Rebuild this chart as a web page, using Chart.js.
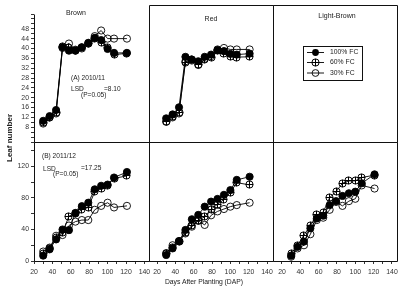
<!DOCTYPE html>
<html><head><meta charset="utf-8">
<script src="https://cdn.jsdelivr.net/npm/chart.js@4.4.1/dist/chart.umd.min.js"></script>
<style>
html,body{margin:0;padding:0;background:#fff;width:403px;height:289px;overflow:hidden;}
#wrap{position:relative;width:403px;height:289px;font-family:"Liberation Sans",Arial,sans-serif;color:#222;}
canvas{position:absolute;left:0;top:0;pointer-events:none;}
.t{position:absolute;white-space:nowrap;font-size:6.6px;line-height:1;}
.c{transform:translate(-50%,-50%);}
.l{transform:translate(0,-50%);}
</style></head><body>
<div id="wrap">
<canvas id="c0" width="403" height="289"></canvas>
<canvas id="c1" width="403" height="289"></canvas>
<canvas id="c2" width="403" height="289"></canvas>
<canvas id="c3" width="403" height="289"></canvas>
<canvas id="c4" width="403" height="289"></canvas>
<canvas id="c5" width="403" height="289"></canvas>
<div class="t c" style="left:76px;top:12px;font-size:7px">Brown</div>
<div class="t c" style="left:211px;top:18px;font-size:7px">Red</div>
<div class="t c" style="left:337px;top:15px;font-size:7px">Light-Brown</div>
<div class="t c" style="left:9.5px;top:138px;font-size:8px;font-weight:bold;transform:translate(-50%,-50%) rotate(-90deg)">Leaf number</div>
<div class="t c" style="left:204px;top:282px;font-size:6.8px">Days After Planting (DAP)</div>
<div class="t l" style="left:71px;top:78px">(A) 2010/11</div>
<div class="t l" style="left:71px;top:89px">LSD</div>
<div class="t l" style="left:81px;top:95px">(P=0.05)</div>
<div class="t l" style="left:104px;top:89px">=8.10</div>
<div class="t l" style="left:42px;top:156px">(B) 2011/12</div>
<div class="t l" style="left:43px;top:169px">LSD</div>
<div class="t l" style="left:53px;top:174px">(P=0.05)</div>
<div class="t l" style="left:81px;top:168px">=17.25</div>
</div>
<script>
// ---- data ----
const days = [30, 37, 44, 51, 58, 65, 72, 79, 86, 93, 100, 107, 121];
const seriesNames = ['100% FC', '60% FC', '30% FC'];

const brown1011_fc100 = [10.6, 12.5, 15.0, 40.5, 39.1, 39.1, 40.5, 42.3, 44.3, 43.4, 39.8, 38.2, 38.2];
const brown1011_fc60  = [10.0, 12.0, 14.0, 40.8, 40.5, 39.0, 40.5, 42.0, 44.0, 42.5, 40.5, 37.5, 38.0];
const brown1011_fc30  = [9.5, 12.0, 13.6, 40.2, 42.0, 39.5, 40.0, 42.0, 45.0, 47.3, 44.0, 44.0, 44.0];

const red1011_fc100 = [11.6, 13.2, 16.1, 36.6, 35.5, 34.8, 36.6, 37.5, 39.3, 38.9, 37.8, 37.5, 37.9];
const red1011_fc60  = [10.5, 12.5, 14.0, 34.5, 35.5, 33.5, 35.5, 36.5, 39.0, 38.0, 36.8, 36.5, 36.6];
const red1011_fc30  = [10.2, 12.0, 13.6, 34.8, 35.1, 33.3, 35.8, 36.9, 39.6, 40.2, 39.6, 39.6, 39.6];

const brown1112_fc100 = [6.8, 14.8, 27.4, 40.0, 39.2, 61.0, 69.6, 74.0, 91.0, 95.5, 97.0, 106.0, 113.0];
const brown1112_fc60  = [10.0, 16.0, 30.0, 36.0, 57.0, 60.0, 65.0, 68.0, 88.0, 92.0, 96.0, 105.0, 108.0];
const brown1112_fc30  = [12.0, 17.0, 32.0, 33.0, 45.0, 50.0, 52.0, 52.0, 65.0, 70.0, 74.0, 68.0, 70.0];

const red1112_fc100 = [7.6, 16.0, 25.4, 39.4, 53.0, 58.5, 69.0, 75.4, 78.8, 84.0, 90.0, 103.0, 107.0];
const red1112_fc60  = [9.0, 17.0, 25.0, 36.0, 45.0, 52.0, 56.0, 66.0, 72.0, 78.0, 87.0, 99.5, 96.6];
const red1112_fc30  = [10.0, 20.0, 25.0, 35.0, 43.6, 51.0, 45.8, 58.0, 63.0, 66.0, 69.0, 71.0, 74.0];

const lb1112_fc100 = [6.8, 18.0, 24.6, 41.5, 54.0, 57.6, 71.0, 76.0, 82.6, 86.0, 88.0, 98.7, 110.0];
const lb1112_fc60  = [9.7, 20.0, 33.0, 45.0, 58.5, 62.0, 80.5, 88.0, 98.7, 101.7, 101.7, 106.0, 109.0];
const lb1112_fc30  = [5.5, 16.0, 20.0, 34.0, 52.0, 55.0, 65.0, 75.0, 70.0, 76.0, 79.0, 96.0, 92.0];

const topYLabels = [8, 12, 16, 20, 24, 28, 32, 36, 40, 44, 48];
const bottomYLabels = [0, 40, 80, 120];
const xLabels = [20, 40, 60, 80, 100, 120, 140];

// ---- styling ----
Chart.defaults.font.family = '"Liberation Sans", Arial, sans-serif';
Chart.defaults.color = '#333';
const W = 403, H = 289;
const R = 3.6;

function crossMarker() {
  const c = document.createElement('canvas');
  c.width = 9; c.height = 9;
  const g = c.getContext('2d');
  g.strokeStyle = '#000'; g.lineWidth = 1;
  g.beginPath(); g.arc(4.5, 4.5, 3.6, 0, Math.PI * 2); g.stroke();
  g.beginPath(); g.moveTo(0.9, 4.5); g.lineTo(8.1, 4.5); g.moveTo(4.5, 0.9); g.lineTo(4.5, 8.1); g.stroke();
  return c;
}
const crossImg = crossMarker();

function styleFor(k) {
  const base = { borderColor: '#000', borderWidth: 0.9, tension: 0, pointRadius: R, pointHoverRadius: R, pointBorderColor: '#000', pointBorderWidth: 0.9, fill: false };
  if (k === 0) return Object.assign(base, { pointStyle: 'circle', pointBackgroundColor: '#000', backgroundColor: '#000' });
  if (k === 1) return Object.assign(base, { pointStyle: crossImg, pointBackgroundColor: 'rgba(0,0,0,0)' });
  return Object.assign(base, { pointStyle: 'circle', pointBackgroundColor: 'rgba(255,255,255,0)' });
}

function drawMarker(ctx, k, x, y) {
  ctx.save();
  ctx.strokeStyle = '#000'; ctx.fillStyle = '#000'; ctx.lineWidth = 0.9;
  if (k === 0) { ctx.beginPath(); ctx.arc(x, y, 3.4, 0, Math.PI * 2); ctx.fill(); }
  else if (k === 1) { ctx.imageSmoothingEnabled = false; ctx.drawImage(crossImg, Math.round(x - 4.5), Math.round(y - 4.5)); }
  else { ctx.beginPath(); ctx.arc(x, y, 3.4, 0, Math.PI * 2); ctx.stroke(); }
  ctx.restore();
}

const framePlugin = {
  id: 'frame',
  beforeDatasetsDraw(chart) { chart.ctx.imageSmoothingEnabled = false; },
  afterDraw(chart, args, opts) {
    const { ctx, chartArea: a } = chart;
    const L = Math.round(a.left) + 0.5, Rr = Math.round(a.right) + 0.5, T = Math.round(a.top) + 0.5, B = Math.round(a.bottom) + 0.5;
    ctx.save();
    ctx.strokeStyle = '#111'; ctx.lineWidth = 1;
    ctx.beginPath();
    ctx.moveTo(L, T); ctx.lineTo(L, B); ctx.lineTo(Rr, B); ctx.lineTo(Rr, T);
    if (opts.top !== false) ctx.lineTo(L, T);
    ctx.stroke();
    if (opts.legend) {
      ctx.strokeRect(303.5, 46.5, 59, 34);
      const ys = [52.5, 62.5, 73];
      ctx.font = '6.8px "Liberation Sans", Arial, sans-serif';
      ctx.textBaseline = 'middle'; ctx.textAlign = 'left';
      seriesNames.forEach((n, k) => {
        ctx.lineWidth = 0.9; ctx.strokeStyle = '#000';
        ctx.beginPath(); ctx.moveTo(307, ys[k]); ctx.lineTo(324, ys[k]); ctx.stroke();
        drawMarker(ctx, k, 315.5, ys[k]);
        ctx.fillStyle = '#222';
        ctx.fillText(n, 330, ys[k]);
      });
    }
    ctx.restore();
  }
};

function axis(cfg, horizontal, size) {
  if (!cfg.show) return { type: 'linear', display: false, min: cfg.min, max: cfg.max };
  return {
    type: 'linear', min: cfg.min, max: cfg.max,
    position: horizontal ? 'bottom' : 'left',
    afterFit(s) { if (horizontal) s.height = size; else s.width = size; },
    border: { display: false },
    grid: { drawOnChartArea: false, drawTicks: true, tickLength: 3, tickColor: '#000', tickWidth: 0.8 },
    ticks: {
      stepSize: cfg.step, includeBounds: false, autoSkip: false, maxRotation: 0, minRotation: 0,
      padding: horizontal ? 4 : 2,
      font: { size: 6.9 }, color: '#333',
      callback: (v) => cfg.labels.includes(v) ? String(v) : ''
    }
  };
}

function panel(id, area, x, y, data, frameOpts) {
  const datasets = data.map((arr, k) => Object.assign({
    label: seriesNames[k],
    data: days.map((d, i) => ({ x: d, y: arr[i] }))
  }, styleFor(k)));
  const padLeft = y.show ? 0 : area[0];
  const padBottom = x.show ? 0 : H - area[3];
  return new Chart(document.getElementById(id), {
    type: 'line',
    data: { datasets },
    options: {
      responsive: false, animation: false, devicePixelRatio: 1,
      events: [],
      layout: { padding: { left: padLeft, top: area[1], right: W - area[2], bottom: padBottom } },
      plugins: { legend: { display: false }, tooltip: { enabled: false }, frame: frameOpts },
      scales: { x: axis(x, true, H - area[3]), y: axis(y, false, area[0]) }
    },
    plugins: [framePlugin]
  });
}

const xL = { min: 20, max: 145 };
const xM = { min: 11.27, max: 146.5 };
const xR = { min: 10.2, max: 145.5 };
const yTop = { min: 2, max: 54 };
const yTopTall = { min: 2, max: 57.66 };
const yBot = { min: 0, max: 151.1 };

panel('c0', [34, 14, 149, 142], Object.assign({ show: false }, xL),
  Object.assign({ show: true, step: 2, labels: topYLabels }, yTop),
  [brown1011_fc100, brown1011_fc60, brown1011_fc30], { top: false });
panel('c1', [149, 5, 273, 142], Object.assign({ show: false }, xM), Object.assign({ show: false }, yTopTall),
  [red1011_fc100, red1011_fc60, red1011_fc30], {});
panel('c2', [273, 5, 397, 142], Object.assign({ show: false }, xR), Object.assign({ show: false }, yTopTall),
  [], { legend: true });
panel('c3', [34, 142, 149, 261], Object.assign({ show: true, step: 10, labels: xLabels }, xL),
  Object.assign({ show: true, step: 20, labels: bottomYLabels }, yBot),
  [brown1112_fc100, brown1112_fc60, brown1112_fc30], {});
panel('c4', [149, 142, 273, 261], Object.assign({ show: true, step: 10, labels: xLabels }, xM),
  Object.assign({ show: false }, yBot),
  [red1112_fc100, red1112_fc60, red1112_fc30], {});
panel('c5', [273, 142, 397, 261], Object.assign({ show: true, step: 10, labels: xLabels }, xR),
  Object.assign({ show: false }, yBot),
  [lb1112_fc100, lb1112_fc60, lb1112_fc30], {});
</script>
</body></html>
